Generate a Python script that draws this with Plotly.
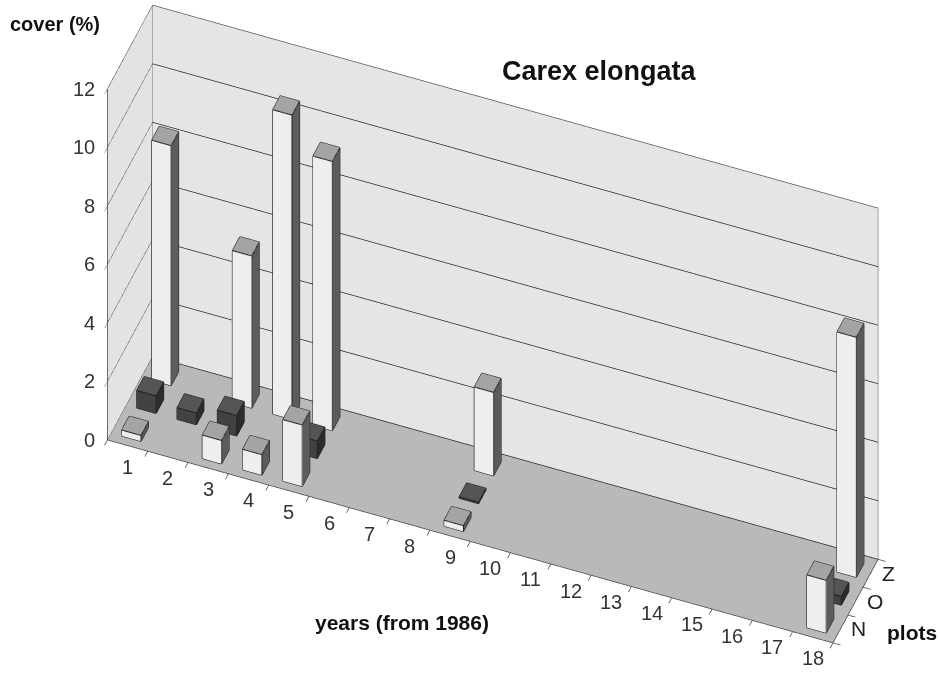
import plotly.graph_objects as go

# cover (%) of Carex elongata per year and plot
years = list(range(1, 19))
plots = ["N", "O", "Z"]
cover_N = [0.2, 0, 0.8, 0.7, 2.1, 0, 0, 0, 0.2, 0, 0, 0, 0, 0, 0, 0, 0, 1.8]
cover_O = [0.6, 0.4, 0.7, 0, 0.6, 0, 0, 0, 0.05, 0, 0, 0, 0, 0, 0, 0, 0, 0.3]
cover_Z = [8.2, 0, 5.2, 10.4, 9.2, 0, 0, 0, 2.85, 0, 0, 0, 0, 0, 0, 0, 0, 8.2]
cover_ticks = [0, 2, 4, 6, 8, 10, 12]

FONT = "Liberation Sans, Arial, sans-serif"
series = [cover_N, cover_O, cover_Z]
# face colours per series: front, side, top
face_styles = [
    ("#eeeeee", "#5c5c5c", "#a4a4a4"),
    ("#424242", "#2c2c2c", "#555555"),
    ("#eeeeee", "#5c5c5c", "#a4a4a4"),
]

X0, X1 = 0.5, 18.5
Y0, Y1 = -0.5, 2.5
Z0, Z1 = 0, 12
HW = 0.24   # half width of a column along the year axis
HD = 0.25   # half depth of a column along the plot axis

xs, ys, zs = [], [], []
ii, jj, kk, fcol = [], [], [], []
ex, ey, ez = [], [], []

for row, (vals, (c_front, c_side, c_top)) in enumerate(zip(series, face_styles)):
    for yr, v in zip(years, vals):
        if v <= 0:
            continue
        x0, x1 = yr - HW, yr + HW
        y0, y1 = row - HD, row + HD
        base = len(xs)
        corners = [
            (x0, y0, 0), (x1, y0, 0), (x1, y1, 0), (x0, y1, 0),
            (x0, y0, v), (x1, y0, v), (x1, y1, v), (x0, y1, v),
        ]
        for px, py, pz in corners:
            xs.append(px); ys.append(py); zs.append(pz)
        tris = [
            ((0, 1, 5), c_front), ((0, 5, 4), c_front),
            ((1, 2, 6), c_side), ((1, 6, 5), c_side),
            ((4, 5, 6), c_top), ((4, 6, 7), c_top),
            ((2, 3, 7), c_side), ((2, 7, 6), c_side),
            ((3, 0, 4), c_side), ((3, 4, 7), c_side),
            ((0, 1, 2), c_side), ((0, 2, 3), c_side),
        ]
        for (a, b, c), col in tris:
            ii.append(base + a); jj.append(base + b); kk.append(base + c)
            fcol.append(col)
        edges = [(0, 1), (1, 2), (2, 3), (3, 0), (4, 5), (5, 6), (6, 7), (7, 4),
                 (0, 4), (1, 5), (2, 6), (3, 7)]
        for a, b in edges:
            pa, pb = corners[a], corners[b]
            ex += [pa[0], pb[0], None]
            ey += [pa[1], pb[1], None]
            ez += [pa[2], pb[2], None]

fig = go.Figure()
fig.add_trace(go.Mesh3d(
    x=xs, y=ys, z=zs, i=ii, j=jj, k=kk, facecolor=fcol,
    flatshading=True,
    lighting=dict(ambient=1.0, diffuse=0.0, specular=0.0, roughness=1.0, fresnel=0.0),
    hoverinfo="skip", showscale=False,
))
fig.add_trace(go.Scatter3d(
    x=ex, y=ey, z=ez, mode="lines",
    line=dict(color="#1e1e1e", width=2),
    hoverinfo="skip", showlegend=False,
))

# outline of the walls
wx = [X0, X0, None, X0, X1, X1, None, X0, X0]
wy = [Y0, Y1, None, Y1, Y1, Y1, None, Y1, Y1]
wz = [Z1, Z1, None, Z1, Z1, Z0, None, Z0, Z1]
fig.add_trace(go.Scatter3d(
    x=wx, y=wy, z=wz, mode="lines",
    line=dict(color="#8a8a8a", width=1.5),
    hoverinfo="skip", showlegend=False,
))

axis_common = dict(
    showspikes=False, title=dict(text=""), showticklabels=False,
    showline=True, linecolor="#444444", linewidth=1.5,
    ticks="outside", ticklen=8, tickcolor="#444444", tickwidth=1.5,
    zeroline=False,
)

tick_font = dict(family=FONT, size=20, color="#333333")
annotations3d = []
for yr in years:
    annotations3d.append(dict(x=yr, y=Y0, z=0, text=str(yr), showarrow=False,
                              xanchor="center", yanchor="top", yshift=-8,
                              font=tick_font))
for t in cover_ticks:
    annotations3d.append(dict(x=X0, y=Y0, z=t, text=str(t), showarrow=False,
                              xanchor="right", yanchor="middle", xshift=-10,
                              font=tick_font))
for r, p in enumerate(plots):
    annotations3d.append(dict(x=X1, y=r, z=0, text=p, showarrow=False,
                              xanchor="left", yanchor="middle", xshift=9,
                              font=dict(family=FONT, size=21, color="#222222")))

d = 2.4
cx, cy, cz = -0.057, -0.040, -0.038
fig.update_layout(
    width=940, height=674,
    margin=dict(l=0, r=0, t=0, b=0),
    paper_bgcolor="white",
    showlegend=False,
    hovermode=False,
    scene=dict(
        domain=dict(x=[0, 1], y=[0, 1]),
        xaxis=dict(axis_common, range=[X0, X1], tickvals=[y + 0.5 for y in [0] + years],
                   showgrid=False, showbackground=True, backgroundcolor="#e3e3e6"),
        yaxis=dict(axis_common, range=[Y0, Y1], tickvals=[-0.5, 0.5, 1.5, 2.5],
                   showgrid=False, showbackground=True, backgroundcolor="#e5e5e8"),
        zaxis=dict(axis_common, range=[Z0, Z1], tickvals=cover_ticks,
                   showgrid=True, gridcolor="#222222", gridwidth=1.5,
                   showbackground=True, backgroundcolor="#b8b9bb"),
        aspectmode="manual",
        aspectratio=dict(x=2.31, y=0.37, z=1.5),
        camera=dict(
            eye=dict(x=0.252 * d + cx, y=-0.648 * d + cy, z=0.72 * d + cz),
            center=dict(x=cx, y=cy, z=cz),
            up=dict(x=0, y=0, z=1),
            projection=dict(type="orthographic"),
        ),
        annotations=annotations3d,
    ),
    annotations=[
        dict(text="<b>cover (%)</b>", x=0.059, y=0.964, xref="paper", yref="paper",
             xanchor="center", yanchor="middle", showarrow=False,
             font=dict(family=FONT, size=20, color="#111111")),
        dict(text="<b>Carex elongata</b>", x=0.638, y=0.894, xref="paper", yref="paper",
             xanchor="center", yanchor="middle", showarrow=False,
             font=dict(family=FONT, size=27, color="#111111")),
        dict(text="<b>years (from 1986)</b>", x=0.428, y=0.077, xref="paper", yref="paper",
             xanchor="center", yanchor="middle", showarrow=False,
             font=dict(family=FONT, size=21, color="#111111")),
        dict(text="<b>plots</b>", x=0.970, y=0.062, xref="paper", yref="paper",
             xanchor="center", yanchor="middle", showarrow=False,
             font=dict(family=FONT, size=21, color="#111111")),
    ],
)

fig.write_html("out.html")
